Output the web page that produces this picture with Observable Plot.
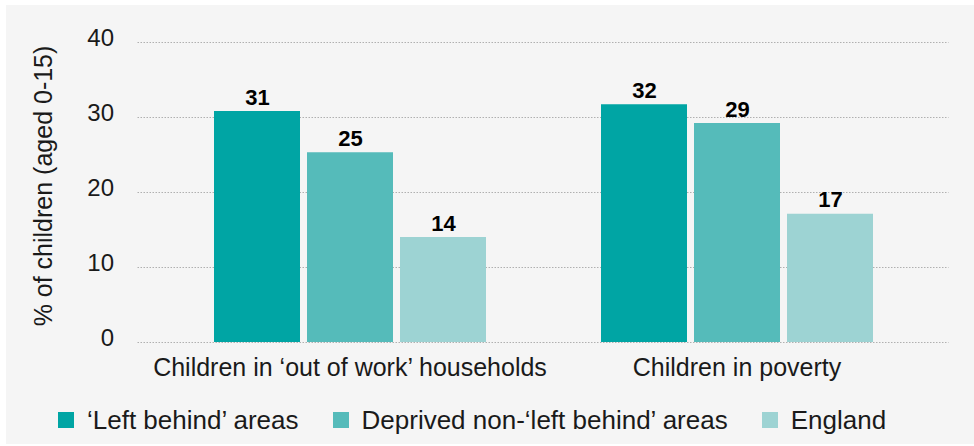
<!DOCTYPE html>
<html><head><meta charset="utf-8">
<script src="https://cdn.jsdelivr.net/npm/d3@7"></script>
<script src="https://cdn.jsdelivr.net/npm/@observablehq/plot@0.6"></script>
<style>
body{margin:0;background:#fff;}
#panel{position:absolute;left:6px;top:5px;width:968px;height:439px;background:#f5f5f5;font-family:"Liberation Sans",Arial,sans-serif;color:#1a1a1a;}
#chart{position:absolute;left:0;top:0;}
#legend{position:absolute;left:52px;top:402px;display:flex;align-items:center;height:26px;font-size:26px;white-space:nowrap;}
.item{display:flex;align-items:center;margin-right:34px;}
.sw{width:16px;height:16px;margin-right:13px;flex:none;}
</style></head><body>
<div id="panel"><div id="chart"></div><div id="legend"></div></div>
<script>
const groups = ["Children in \u2018out of work\u2019 households", "Children in poverty"];
const series = ["\u2018Left behind\u2019 areas", "Deprived non-\u2018left behind\u2019 areas", "England"];
const leftBehind = [30.8, 31.7];
const deprived = [25.3, 29.2];
const england = [14.0, 17.1];
const colors = ["#00a5a4", "#55bbba", "#9dd3d3"];
const yTicks = [0, 10, 20, 30, 40];
const yLabel = "% of children (aged 0-15)";

const seriesValues = [leftBehind, deprived, england];
const data = [];
groups.forEach((g, gi) => series.forEach((s, si) => data.push({group: g, series: s, value: seriesValues[si][gi]})));

// the facet band leaves an outer gap; gridlines are extended across it
const outerGap = 18.5;
const gridStyle = {stroke: "#b0b0b0", strokeOpacity: 1, strokeDasharray: "1.5,1.5"};

const plot = Plot.plot({
  width: 968, height: 385,
  marginLeft: 131, marginRight: 26, marginTop: 37, marginBottom: 48,
  style: {background: "transparent", fontFamily: "'Liberation Sans', Arial, sans-serif", color: "#1a1a1a", overflow: "visible"},
  fx: {domain: groups, paddingInner: 0, paddingOuter: 0.0478, label: null},
  x: {domain: series, paddingInner: 0.08, paddingOuter: 0.617, axis: null},
  y: {domain: [0, 40], label: null},
  color: {domain: series, range: colors},
  marks: [
    Plot.gridY(yTicks, {...gridStyle, fx: () => groups[0], insetLeft: -outerGap}),
    Plot.gridY(yTicks, {...gridStyle, fx: () => groups[1], insetRight: -outerGap}),
    Plot.axisY(yTicks, {tickSize: 0, tickPadding: 24 + outerGap, fontSize: 24, dy: -4, label: null}),
    Plot.text([yLabel], {fx: () => groups[0], frameAnchor: "left", textAnchor: "middle", rotate: -90, dx: -94 - outerGap, dy: -6.5, fontSize: 25, text: d => d}),
    Plot.axisFx({anchor: "bottom", tickSize: 0, tickPadding: 16, fontSize: 25, label: null}),
    Plot.barY(data, {fx: "group", x: "series", y: "value", fill: "series"}),
    Plot.text(data, {fx: "group", x: "series", y: "value", text: d => d3.format(".0f")(d.value), lineAnchor: "bottom", dy: -7, fontSize: 22, fontWeight: "bold", fill: "#000"})
  ]
});
document.getElementById("chart").appendChild(plot);

const legend = document.getElementById("legend");
series.forEach((s, i) => {
  const item = document.createElement("div");
  item.className = "item";
  const sw = document.createElement("div");
  sw.className = "sw";
  sw.style.background = colors[i];
  const t = document.createElement("span");
  t.textContent = s;
  item.appendChild(sw); item.appendChild(t);
  legend.appendChild(item);
});
</script>
</body></html>
